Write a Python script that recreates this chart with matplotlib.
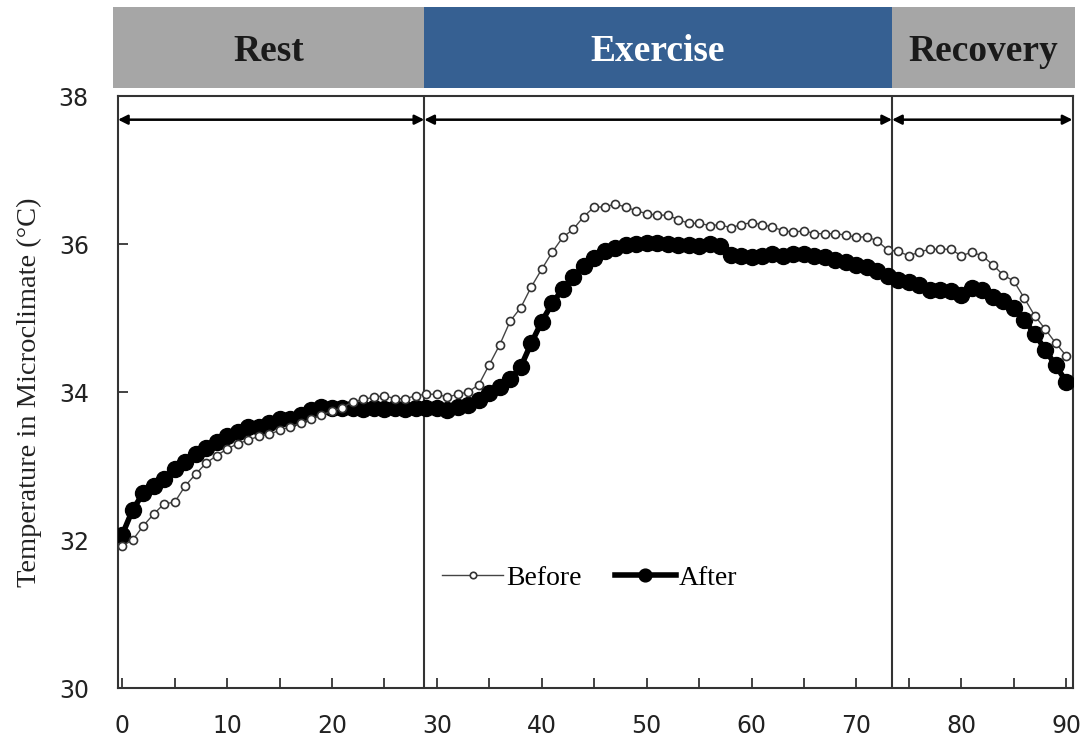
import matplotlib
matplotlib.use('Agg')
import matplotlib.pyplot as plt
from matplotlib.patches import Rectangle

plt.rcParams['font.family'] = ['Liberation Serif', 'DejaVu Serif']

minutes = list(range(0, 91))

before = [31.92, 32.00, 32.19, 32.35, 32.49, 32.51, 32.73, 32.89, 33.04, 33.14,
          33.23, 33.30, 33.35, 33.40, 33.43, 33.48, 33.53, 33.58, 33.63, 33.69,
          33.74, 33.79, 33.87, 33.90, 33.93, 33.95, 33.91, 33.91, 33.95, 33.97,
          33.97, 33.93, 33.97, 34.00, 34.10, 34.37, 34.64, 34.96, 35.14, 35.42,
          35.66, 35.89, 36.09, 36.20, 36.37, 36.50, 36.50, 36.54, 36.50, 36.45,
          36.41, 36.39, 36.39, 36.33, 36.28, 36.28, 36.25, 36.26, 36.22, 36.26,
          36.29, 36.26, 36.23, 36.18, 36.16, 36.18, 36.14, 36.14, 36.14, 36.12,
          36.09, 36.10, 36.04, 35.92, 35.90, 35.84, 35.89, 35.93, 35.93, 35.93,
          35.84, 35.89, 35.84, 35.72, 35.58, 35.50, 35.27, 35.03, 34.85, 34.66,
          34.49]

after = [32.07, 32.41, 32.63, 32.73, 32.82, 32.96, 33.06, 33.16, 33.24, 33.32,
         33.41, 33.46, 33.53, 33.53, 33.58, 33.63, 33.64, 33.69, 33.76, 33.80,
         33.79, 33.78, 33.78, 33.77, 33.78, 33.77, 33.78, 33.77, 33.78, 33.78,
         33.78, 33.76, 33.80, 33.83, 33.89, 33.98, 34.07, 34.18, 34.34, 34.66,
         34.95, 35.20, 35.39, 35.56, 35.70, 35.81, 35.90, 35.94, 35.98, 36.00,
         36.02, 36.02, 36.00, 35.99, 35.98, 35.97, 36.00, 35.97, 35.85, 35.84,
         35.82, 35.84, 35.87, 35.84, 35.87, 35.86, 35.84, 35.82, 35.78, 35.76,
         35.72, 35.69, 35.64, 35.57, 35.52, 35.48, 35.45, 35.38, 35.38, 35.36,
         35.31, 35.40, 35.38, 35.29, 35.23, 35.14, 34.97, 34.79, 34.57, 34.36,
         34.14]

phases = ['Rest', 'Exercise', 'Recovery']
phase_edges = [-0.86, 28.8, 73.4, 90.85]
phase_colors = ['#a6a6a6', '#366092', '#a6a6a6']
phase_text_colors = ['#1a1a1a', 'white', '#1a1a1a']

fig = plt.figure(figsize=(10.86, 7.45), dpi=100)
ax = fig.add_axes([118 / 1086, 1 - 688 / 745, 955 / 1086, 592 / 745])

ax.plot(minutes, after, color='black', lw=4, marker='o', markersize=11.5,
        markerfacecolor='black', markeredgecolor='black', label='After', zorder=3)
ax.plot(minutes, before, color='#444444', lw=1, marker='o', markersize=5.8,
        markerfacecolor='white', markeredgecolor='#333333', markeredgewidth=1.2,
        label='Before', zorder=4)

# phase separators
for x in phase_edges[1:3]:
    ax.axvline(x, color='#333333', lw=1.5, zorder=2)

# double-headed arrows
arrow_edges = [-0.4, 28.8, 73.4, 90.6]
for i in range(3):
    ax.annotate('', xy=(arrow_edges[i], 37.68), xytext=(arrow_edges[i + 1], 37.68),
                arrowprops=dict(arrowstyle='<|-|>', color='black', lw=1.8,
                                mutation_scale=14, shrinkA=0, shrinkB=0))

ax.set_xlim(-0.4, 90.65)
ax.set_ylim(30, 38)
ax.set_xticks(range(0, 91, 5))
ax.set_xticklabels([str(v) if v % 10 == 0 else '' for v in range(0, 91, 5)])
ax.set_yticks(range(30, 39, 2))
ax.tick_params(axis='x', direction='in', length=7, width=1.2, pad=19, labelsize=17, colors='#222222')
ax.tick_params(axis='y', direction='in', length=7, width=1.2, pad=21, labelsize=17, colors='#222222')
for lab in ax.get_xticklabels() + ax.get_yticklabels():
    lab.set_fontfamily('DejaVu Sans')
for s in ax.spines.values():
    s.set_linewidth(1.5)
    s.set_color('#333333')

ax.set_ylabel('Temperature in Microclimate (\u00b0C)', fontsize=20.5, color='#222222')
ax.yaxis.set_label_coords(-0.08, 0.5)

handles, labels = ax.get_legend_handles_labels()
ax.legend(handles[::-1], labels[::-1], loc='center', bbox_to_anchor=(0.494, 0.186), ncol=2,
          frameon=False, fontsize=20, handlelength=2.2, handletextpad=0.1,
          columnspacing=1.2, markerscale=0.8)

# header band
hax = fig.add_axes([113 / 1086, 1 - 88 / 745, 962 / 1086, 81 / 745])
hax.set_xlim(phase_edges[0], phase_edges[-1])
hax.set_ylim(0, 1)
hax.axis('off')
for i, name in enumerate(phases):
    hax.add_patch(Rectangle((phase_edges[i], 0), phase_edges[i + 1] - phase_edges[i], 1,
                            facecolor=phase_colors[i], edgecolor='none'))
    hax.text((phase_edges[i] + phase_edges[i + 1]) / 2, 0.45, name, ha='center', va='center',
             fontsize=27, fontweight='bold', color=phase_text_colors[i])

fig.savefig('out.png', dpi=100)
